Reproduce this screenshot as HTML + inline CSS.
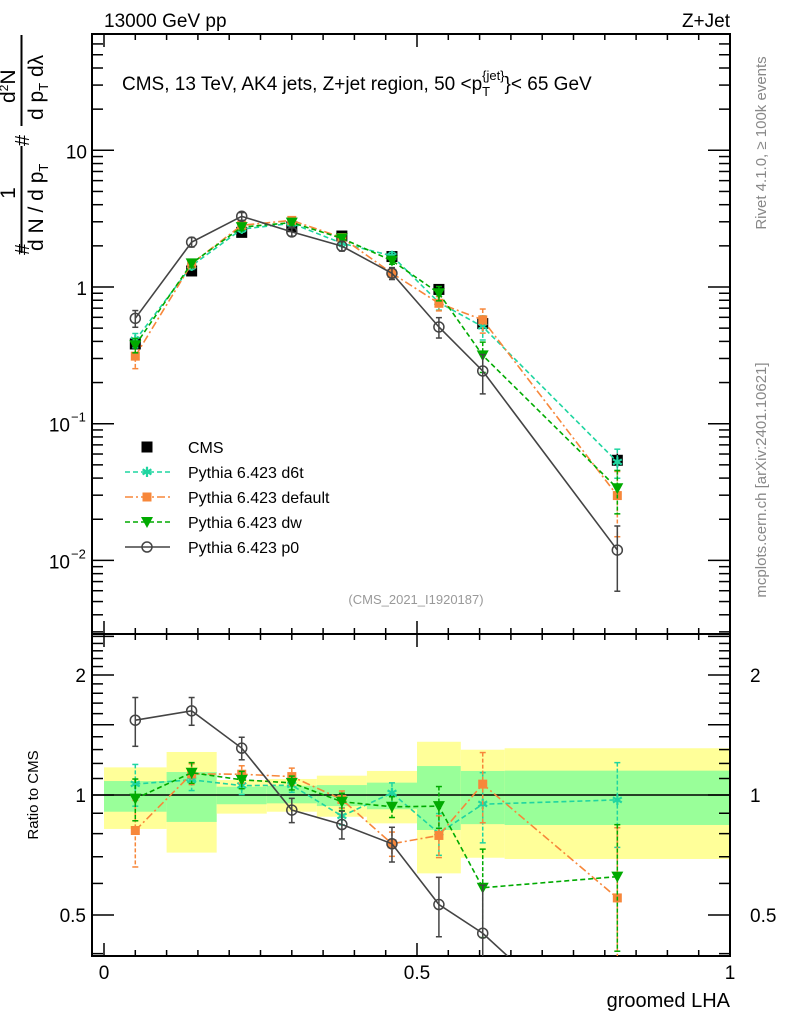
<!DOCTYPE html>
<html><head><meta charset="utf-8"><style>
html,body{margin:0;background:#fff;width:786px;height:1024px;overflow:hidden}
svg{display:block;font-family:"Liberation Sans",sans-serif}
</style></head><body>
<svg id="c" width="786" height="1024" viewBox="0 0 786 1024">
<defs>
<clipPath id="clipTop"><rect x="92" y="34" width="638" height="600"/></clipPath>
<clipPath id="clipRat"><rect x="92" y="634" width="638" height="322"/></clipPath>
</defs>
<g id="bands" clip-path="url(#clipRat)"></g>
<g id="grid"></g>
<g id="topSeries" clip-path="url(#clipTop)"></g>
<g id="ratSeries" clip-path="url(#clipRat)"></g>
<text x="104" y="27" font-size="19">13000 GeV pp</text>
<text x="730" y="27" font-size="19" text-anchor="end">Z+Jet</text>
<text x="122" y="90" font-size="19">CMS, 13 TeV, AK4 jets, Z+jet region, 50 &lt;p<tspan font-size="13" dy="6">T</tspan><tspan font-size="13" dy="-16" dx="-8">{jet}</tspan><tspan dy="10">}&lt; 65 GeV</tspan></text>
<text x="416" y="604" font-size="13" fill="#999" text-anchor="middle">(CMS_2021_I1920187)</text>
<text transform="translate(766,143) rotate(-90)" font-size="15" fill="#888" text-anchor="middle">Rivet 4.1.0, ≥ 100k events</text>
<text transform="translate(766,480) rotate(-90)" font-size="15" fill="#888" text-anchor="middle">mcplots.cern.ch [arXiv:2401.10621]</text>
<g font-size="21">
<line x1="21.5" y1="253" x2="21.5" y2="146" stroke="#000" stroke-width="2"/>
<line x1="21.5" y1="126" x2="21.5" y2="35" stroke="#000" stroke-width="2"/>
<text transform="translate(15,193) rotate(-90)" text-anchor="middle">1</text>
<text transform="translate(43,251) rotate(-90)">d N / d p<tspan font-size="13" dy="5">T</tspan></text>
<text transform="translate(29,255) rotate(-90)" font-size="20">#</text>
<text transform="translate(29,146) rotate(-90)" font-size="20">#</text>
<text transform="translate(15,103) rotate(-90)">d<tspan font-size="12" dy="-7">2</tspan><tspan dy="7">N</tspan></text>
<text transform="translate(43,120) rotate(-90)">d p<tspan font-size="13" dy="5">T</tspan><tspan dy="-5"> dλ</tspan></text>
</g>
<text transform="translate(38,795) rotate(-90)" font-size="15" text-anchor="middle">Ratio to CMS</text>
<text x="730" y="1007" font-size="20" text-anchor="end">groomed LHA</text>
<g id="legend"></g>
</svg>
<script>
const categories=[0.05,0.14,0.22,0.30,0.38,0.46,0.535,0.605,0.82];
const binEdges=[0,0.1,0.18,0.26,0.34,0.42,0.5,0.57,0.64,1.0];
const cmsValues=[0.383,1.31,2.51,2.76,2.36,1.67,0.96,0.54,0.054];
const cmsErr=[0.08,0.05,0.04,0.04,0.04,0.05,0.07,0.1,0.12];
const bandStatUp=[1.084,1.142,1.049,1.055,1.059,1.074,1.182,1.149,1.151];
const bandStatDn=[0.908,0.856,0.948,0.953,0.938,0.921,0.817,0.845,0.841];
const bandTotUp=[1.173,1.282,1.090,1.097,1.118,1.149,1.360,1.299,1.310];
const bandTotDn=[0.822,0.717,0.898,0.908,0.882,0.849,0.636,0.696,0.691];
const d6tValues=[0.408,1.43,2.65,2.92,2.09,1.69,0.77,0.512,0.0525];
const d6tErr=[0.12,0.06,0.05,0.04,0.05,0.06,0.12,0.2,0.24];
const defValues=[0.312,1.48,2.83,3.07,2.30,1.26,0.76,0.575,0.0298];
const defErr=[0.19,0.06,0.05,0.05,0.05,0.07,0.12,0.2,0.5];
const dwValues=[0.375,1.49,2.74,2.96,2.27,1.56,0.90,0.316,0.0337];
const dwErr=[0.12,0.06,0.05,0.04,0.05,0.06,0.12,0.25,0.35];
const p0Values=[0.59,2.13,3.29,2.53,1.99,1.26,0.51,0.243,0.0119];
const p0Err=[0.14,0.08,0.065,0.07,0.08,0.1,0.17,0.32,0.5];
const ratioTickVals=[0.5,1,2];
const ratioTickLabels=["0.5","1","2"];
const xTickVals=[0,0.5,1];
const xTickLabels=["0","0.5","1"];

const NS="http://www.w3.org/2000/svg";
const X=v=>104+626*v;
const YT=v=>287-136.7*Math.log10(v);
const YR=r=>795-120*Math.log2(r);
function mk(tag,attrs,parent){const e=document.createElementNS(NS,tag);for(const k in attrs)e.setAttribute(k,attrs[k]);parent.appendChild(e);return e;}
const grid=document.getElementById('grid');
const bands=document.getElementById('bands');
for(let i=0;i<categories.length;i++){
  const x0=X(binEdges[i]),x1=X(binEdges[i+1]);
  const y=mk('rect',{x:x0,y:YR(bandTotUp[i]),width:x1-x0,height:YR(bandTotDn[i])-YR(bandTotUp[i]),fill:'#ffff99'},bands);
  
  
  const g=mk('rect',{x:x0,y:YR(bandStatUp[i]),width:x1-x0,height:YR(bandStatDn[i])-YR(bandStatUp[i]),fill:'#99ff99'},bands);
  
  
}
const f1=mk('rect',{x:92,y:34,width:638,height:600,fill:'none',stroke:'#000','stroke-width':2},grid);


const f2=mk('rect',{x:92,y:634,width:638,height:322,fill:'none',stroke:'#000','stroke-width':2},grid);


mk('line',{x1:92,x2:730,y1:YR(1),y2:YR(1),stroke:'#000','stroke-width':1.5},grid);
for(let k=0;k<=20;k++){
  const v=k*0.05,x=X(v),L=(k%10===0)?13:6;
  [34,634].forEach(y=>mk('line',{x1:x,x2:x,y1:y,y2:y+L,stroke:'#000','stroke-width':1.5},grid));
  [634,956].forEach(y=>mk('line',{x1:x,x2:x,y1:y,y2:y-L,stroke:'#000','stroke-width':1.5},grid));
}
xTickVals.forEach((v,i)=>{const t=mk('text',{x:X(v),y:979,'font-size':19,'text-anchor':'middle'},grid);t.textContent=xTickLabels[i];

});
for(let d=-3;d<=1;d++){for(let m=1;m<10;m++){const v=m*Math.pow(10,d),y=YT(v);if(y<35||y>633)continue;const L=m===1?22:11;
 mk('line',{x1:92,x2:92+L,y1:y,y2:y,stroke:'#000','stroke-width':1.5},grid);
 mk('line',{x1:730,x2:730-L,y1:y,y2:y,stroke:'#000','stroke-width':1.5},grid);}}
[[10,"10",""],[1,"1",""],[0.1,"10","−1"],[0.01,"10","−2"]].forEach(a=>{const t=mk('text',{x:a[2]?70:87,y:YT(a[0])+8,'font-size':19,'text-anchor':'end'},grid);t.textContent=a[1];
 
 
 if(a[2]){const s=mk('text',{x:71,y:YT(a[0])-2,'font-size':13},grid);s.textContent=a[2];}});
for(let k=4;k<=25;k++){const r=k/10,y=YR(r);if(y<635||y>955)continue;const L=(k%5===0)?22:11;
 mk('line',{x1:92,x2:92+L,y1:y,y2:y,stroke:'#000','stroke-width':1.5},grid);
 mk('line',{x1:730,x2:730-L,y1:y,y2:y,stroke:'#000','stroke-width':1.5},grid);}
ratioTickVals.forEach((v,i)=>{[[86,'end'],[750,'start']].forEach(p=>{const t=mk('text',{x:p[0],y:YR(v)+7,'font-size':19,'text-anchor':p[1]},grid);t.textContent=ratioTickLabels[i];
 
 });});

function marker(type,x,y,col,par){
 if(type==='sq')return mk('rect',{x:x-5.5,y:y-5.5,width:11,height:11,fill:col},par);
 if(type==='osq')return mk('rect',{x:x-4.5,y:y-4.5,width:9,height:9,fill:col},par);
 if(type==='tri')return mk('path',{d:`M${x-6},${y-5}L${x+6},${y-5}L${x},${y+6}Z`,fill:col},par);
 if(type==='circ')return mk('circle',{cx:x,cy:y,r:5,fill:'none',stroke:col,'stroke-width':1.5},par);
 if(type==='star')return mk('text',{x:x,y:y+5,'font-size':14,'text-anchor':'middle',fill:col},par);
}
const series=[
 {name:'d6t',vals:d6tValues,err:d6tErr,col:'#1fd5a0',dash:'5,3',m:'star',label:'Pythia 6.423 d6t'},
 {name:'default',vals:defValues,err:defErr,col:'#f7873a',dash:'8,3,2,3',m:'osq',label:'Pythia 6.423 default'},
 {name:'dw',vals:dwValues,err:dwErr,col:'#00aa00',dash:'5,3',m:'tri',label:'Pythia 6.423 dw'},
 {name:'p0',vals:p0Values,err:p0Err,col:'#444',dash:'',m:'circ',label:'Pythia 6.423 p0'}
];
const topG=document.getElementById('topSeries'),ratG=document.getElementById('ratSeries');
cmsValues.forEach((v,i)=>{const x=X(categories[i]);
 mk('line',{x1:x,x2:x,y1:YT(v*(1+cmsErr[i])),y2:YT(v*(1-cmsErr[i])),stroke:'#000','stroke-width':1.5},topG);
 const m=marker('sq',x,YT(v),'#000',topG);
 
 });
function draw(s,par,Yf,valsFn){
 const vals=s.vals.map(valsFn);
 const pts=vals.map((v,i)=>X(categories[i])+','+Yf(v)).join(' ');
 const pl=mk('polyline',{points:pts,fill:'none',stroke:s.col,'stroke-width':1.6,'stroke-dasharray':s.dash},par);
 
 
 vals.forEach((v,i)=>{const x=X(categories[i]);
  mk('line',{x1:x,x2:x,y1:Yf(v*(1+s.err[i])),y2:Yf(Math.max(v*(1-s.err[i]),1e-6)),stroke:s.col,'stroke-width':1.5,'stroke-dasharray':s.dash?'4,2':''},par);
  [Yf(v*(1+s.err[i])),Yf(Math.max(v*(1-s.err[i]),1e-6))].forEach(yy=>mk('line',{x1:x-3,x2:x+3,y1:yy,y2:yy,stroke:s.col,'stroke-width':1.5},par));
  const m=marker(s.m,x,Yf(v),s.col,par);
  if(s.m==='star')m.textContent='✱';
  
  
 });
}
series.forEach(s=>{draw(s,topG,YT,v=>v);draw(s,ratG,YR,(v,i)=>v/cmsValues[i]);});
const lg=document.getElementById('legend');
const lm=marker('sq',147,447,'#000',lg);


const lt=mk('text',{x:188,y:453,'font-size':16},lg);lt.textContent='CMS';


series.forEach((s,i)=>{const y=472+25*i;
 mk('line',{x1:125,x2:170,y1:y,y2:y,stroke:s.col,'stroke-width':1.6,'stroke-dasharray':s.dash},lg);
 const m=marker(s.m,147,y,s.col,lg);if(s.m==='star')m.textContent='✱';
 const t=mk('text',{x:188,y:y+6,'font-size':16},lg);t.textContent=s.label;
 
 });
</script>
</body></html>
